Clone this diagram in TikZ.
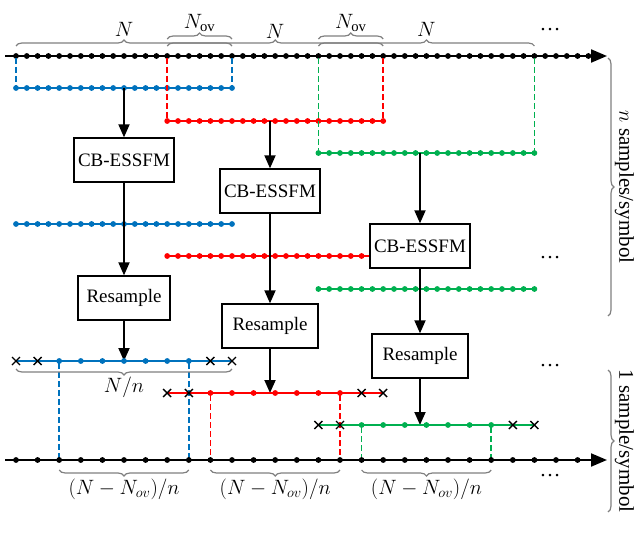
\documentclass[tikz,border=0pt]{standalone}
\usepackage{fontspec}
\setmainfont{Liberation Serif}
\usetikzlibrary{arrows.meta,decorations.pathreplacing}
\definecolor{cb}{RGB}{0,114,189}
\definecolor{cr}{RGB}{255,0,0}
\definecolor{cg}{RGB}{0,176,80}
\begin{document}
\begin{tikzpicture}[x=1pt,y=-1pt,
  box/.style={draw,line width=1.3pt,fill=white,minimum height=44pt,inner sep=4pt,font=\fontsize{19}{21}\selectfont},
  arr/.style={-{Triangle[length=13pt,width=11pt]},line width=1.8pt},
  dsh/.style={line width=1.5pt,dash pattern=on 6pt off 3pt},
  ln/.style={line width=1.5pt},
  br/.style={draw=gray,line width=1.2pt,decorate,decoration={brace,amplitude=6pt}},
  lab/.style={font=\fontsize{21}{23}\selectfont},
  xm/.style={line width=1.4pt,black}]
\useasboundingbox (0,0) rectangle (640,535);
\def\s{10.8}
\def\r{2.9}
% top axis
\draw[line width=2pt,-{Triangle[length=16pt,width=13pt]}] (5,56) -- (607,56);
\foreach \k in {0,...,53} \fill (16+\k*\s,56) circle (\r);
\foreach \st/\c/\ya/\yb in {16/cb/88/224, 167.2/cr/121/256, 318.4/cg/153/289}{
  \draw[dsh,\c] (\st,58) -- (\st,\ya);
  \draw[dsh,\c] (\st+20*\s,58) -- (\st+20*\s,\ya);
  \draw[ln,\c] (\st,\ya) -- (\st+20*\s,\ya);
  \draw[ln,\c] (\st,\yb) -- (\st+20*\s,\yb);
  \foreach \k in {0,...,20} {\fill[\c] (\st+\k*\s,\ya) circle (\r); \fill[\c] (\st+\k*\s,\yb) circle (\r);}
}
% blocks
\node[box] (c1) at (124,160) {CB-ESSFM};
\node[box] (c2) at (270,191) {CB-ESSFM};
\node[box] (c3) at (420,246) {CB-ESSFM};
\node[box,minimum width=92pt] (r1) at (124,298) {Resample};
\node[box,minimum width=96pt] (r2) at (270,326) {Resample};
\node[box,minimum width=96pt] (r3) at (420,356) {Resample};
\coordinate (b1) at (124,88); \coordinate (b2) at (270,121); \coordinate (b3) at (420,153);
\coordinate (o1) at (124,361); \coordinate (o2) at (270,393); \coordinate (o3) at (420,425);
\draw[arr] (b1) -- (c1); \draw[arr] (b2) -- (c2); \draw[arr] (b3) -- (c3);
\draw[arr] (c1) -- (r1); \draw[arr] (c2) -- (r2); \draw[arr] (c3) -- (r3);
\draw[arr] (r1) -- (o1); \draw[arr] (r2) -- (o2); \draw[arr] (r3) -- (o3);
% resampled
\foreach \st/\c/\y in {16/cb/361, 167.2/cr/393, 318.4/cg/425}{
  \draw[ln,\c] (\st,\y) -- (\st+20*\s,\y);
  \foreach \k in {2,...,8} \fill[\c] (\st+2*\k*\s,\y) circle (\r);
  \foreach \k in {0,1,9,10} \draw[xm] (\st+2*\k*\s-4,\y-4) -- ++(8,8) (\st+2*\k*\s-4,\y+4) -- ++(8,-8);
  \draw[dsh,\c] (\st+4*\s,\y+2) -- (\st+4*\s,458);
  \draw[dsh,\c] (\st+16*\s,\y+2) -- (\st+16*\s,458);
  \draw[br] (\st+16*\s,470) -- node[lab,below=5pt]{$(N-N_{ov})/n$} (\st+4*\s,470);
}
% bottom axis
\draw[line width=2pt,-{Triangle[length=16pt,width=13pt]}] (5,460) -- (607,460);
\foreach \k in {0,...,26} \fill (16+2*\k*\s,460) circle (\r);
% top braces
\draw[br] (16,46) -- node[lab,above=6pt]{$N$} (232,46);
\draw[br] (167.2,39) -- node[lab,above=3pt]{$N_{\mathrm{ov}}$} (232,39);
\draw[br] (167.2,46) -- node[lab,above=4pt]{$N$} (383.2,46);
\draw[br] (318.4,39) -- node[lab,above=3pt]{$N_{\mathrm{ov}}$} (383.2,39);
\draw[br] (318.4,46) -- node[lab,above=6pt]{$N$} (534.4,46);
\draw[br] (232,369) -- node[lab,below=4pt]{$N/n$} (16,369);
% dots
\node[lab] (e1) at (550,30) {\dots};
\node[lab] (e2) at (550,258) {\dots};
\node[lab] (e3) at (550,366) {\dots};
\node[lab] (e4) at (550,476) {\dots};
% side braces
\draw[br] (608,58) -- node[lab,right=3pt,rotate=-90,anchor=south]{$n$ samples/symbol} (608,316);
\draw[br] (608,370) -- node[lab,right=3pt,rotate=-90,anchor=south]{1 sample/symbol} (608,512);
\end{tikzpicture}
\end{document}
